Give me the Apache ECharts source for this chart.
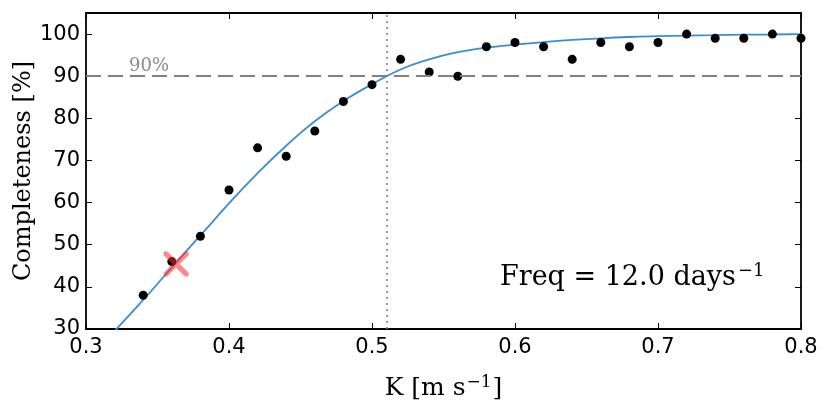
<!DOCTYPE html>
<html>
<head>
<meta charset="utf-8">
<script src="https://cdn.jsdelivr.net/npm/echarts@6/dist/echarts.min.js"></script>
<style>
  html, body { margin: 0; padding: 0; background: #fff; }
  #chart { width: 830px; height: 417px; }
</style>
</head>
<body>
<div id="chart"></div>
<script>
// measured completeness per K bin
const kVals = [0.34, 0.36, 0.38, 0.40, 0.42, 0.44, 0.46, 0.48, 0.50, 0.52, 0.54, 0.56,
  0.58, 0.60, 0.62, 0.64, 0.66, 0.68, 0.70, 0.72, 0.74, 0.76, 0.78, 0.80]
const completeness = [38, 46, 52, 63, 73, 71, 77, 84, 88, 94, 91, 90,
  97, 98, 97, 94, 98, 97, 98, 100, 99, 99, 100, 99]

// fitted curve
const curveK = [0.32, 0.34, 0.36, 0.38, 0.40, 0.42, 0.44, 0.46, 0.48, 0.50, 0.52, 0.54,
  0.56, 0.58, 0.60, 0.62, 0.64, 0.66, 0.68, 0.70, 0.72, 0.74, 0.76, 0.78, 0.80]
const curveC = [29.5, 36.9, 44.6, 52.2, 59.8, 67.0, 73.5, 79.3, 84.1, 88.1, 91.6, 94.0,
  95.7, 96.8, 97.5, 98.1, 98.6, 99.0, 99.3, 99.5, 99.65, 99.75, 99.85, 99.9, 100]

const threshold = 90
const k90 = 0.512
const crossPoint = [0.363, 45.4]

const serif = 'DejaVu Serif'
const sans = 'DejaVu Sans'

const chart = echarts.init(document.getElementById('chart'))

const crossPath = 'path://M0,0 L3,0 L10,7 L17,0 L20,0 L20,3 L13,10 L20,17 L20,20 L17,20 L10,13 L3,20 L0,20 L0,17 L7,10 L0,3 Z'

const frameAxis = {
  axisLine: { show: true, onZero: false, lineStyle: { color: '#000', width: 1.8 } },
  axisTick: { show: true, inside: true, length: 6, lineStyle: { color: '#000', width: 1 } },
  splitLine: { show: false }
}

const option = {
  animation: false,
  backgroundColor: '#fff',
  grid: { left: 86, right: 29, top: 13, bottom: 88, containLabel: false },
  xAxis: [{
    type: 'value', min: 0.3, max: 0.8, interval: 0.1, position: 'bottom',
    ...frameAxis,
    axisLabel: { color: '#000', fontFamily: sans, fontSize: 21, margin: 8, formatter: v => v.toFixed(1) },
    name: '{a|K [m s}{s|−1}{a|]}',
    nameLocation: 'middle',
    nameGap: 45,
    nameTextStyle: {
      rich: {
        a: { fontFamily: serif, fontSize: 25, color: '#000' },
        s: { fontFamily: serif, fontSize: 17, color: '#000', verticalAlign: 'top', padding: [0, 1, 11, 1] }
      }
    }
  }, {
    type: 'value', min: 0.3, max: 0.8, interval: 0.1, position: 'top',
    ...frameAxis,
    axisLabel: { show: false }
  }],
  yAxis: [{
    type: 'value', min: 30, max: 105, interval: 10, position: 'left',
    ...frameAxis,
    axisLabel: { color: '#000', fontFamily: sans, fontSize: 21, margin: 6, showMaxLabel: false },
    name: 'Completeness [%]',
    nameLocation: 'middle',
    nameGap: 50,
    nameMoveOverlap: false,
    nameTextStyle: { fontFamily: serif, fontSize: 24, color: '#000' }
  }, {
    type: 'value', min: 30, max: 105, interval: 10, position: 'right',
    ...frameAxis,
    axisLabel: { show: false }
  }],
  graphic: [{
    type: 'text',
    left: 500,
    top: 262,
    style: {
      text: '{a|Freq = 12.0 days}{s|−1}',
      rich: {
        a: { fontFamily: serif, fontSize: 27, fill: '#000' },
        s: { fontFamily: serif, fontSize: 18, fill: '#000', verticalAlign: 'top', padding: [0, 0, 14, 2] }
      }
    }
  }],
  series: [{
    type: 'line',
    data: curveK.map((k, i) => [k, curveC[i]]),
    smooth: 0.5,
    showSymbol: false,
    lineStyle: { color: '#3a8fcb', width: 1.8 },
    z: 2,
    markLine: {
      silent: true,
      symbol: 'none',
      animation: false,
      data: [{
        yAxis: threshold,
        lineStyle: { color: '#808080', type: [15, 7], width: 2 },
        label: {
          show: true, formatter: '90%', position: 'insideStartTop', distance: [43, 1],
          fontFamily: serif, fontSize: 18, color: '#8a8a8a'
        }
      }, {
        xAxis: k90,
        lineStyle: { color: '#808080', type: [2, 4], width: 1.6 },
        label: { show: false }
      }]
    }
  }, {
    type: 'scatter',
    data: kVals.map((k, i) => [k, completeness[i]]),
    symbolSize: 9,
    itemStyle: { color: '#000', opacity: 1 },
    z: 3
  }, {
    type: 'scatter',
    data: [crossPoint],
    symbol: crossPath,
    symbolSize: 25,
    itemStyle: { color: 'rgba(255, 40, 40, 0.55)', opacity: 1 },
    z: 4
  }]
}

chart.setOption(option)
</script>
</body>
</html>
